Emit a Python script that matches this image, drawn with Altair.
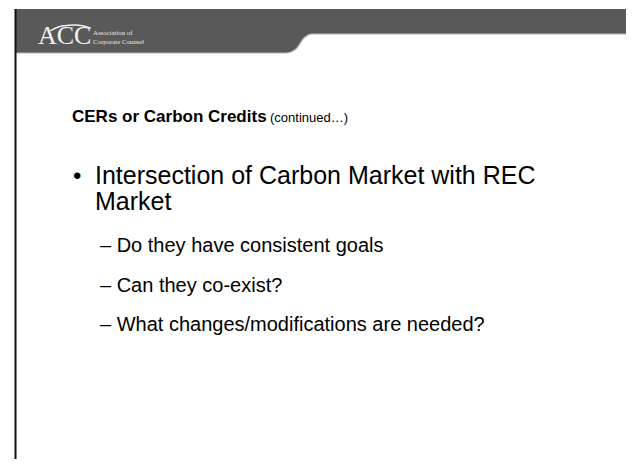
import altair as alt
import pandas as pd

# ---- slide content ----
logo_mark = ["ACC"]
logo_name = ["Association of", "Corporate Counsel"]
title_main = ["CERs or Carbon Credits"]
title_note = ["(continued…)"]
bullet_lines = ["Intersection of Carbon Market with REC", "Market"]
sub_items = ["– Do they have consistent goals", "– Can they co-exist?", "– What changes/modifications are needed?"]

W, H = 618, 451
OX, OY = 8, 8  # page margin


def px(x):
    return x - OX


def py(y):
    return y - OY


FONT = "Liberation Sans"

# header band outline (page px): bottom edge steps up near x=300
hdr = pd.DataFrame({
    "x": [15, 286, 296, 304, 312, 634],
    "top": [0, 0, 0, 0, 0, 0],
    "bot": [52, 52, 48, 37, 33, 33],
})
hdr["x"] = hdr["x"] - OX
hdr["bot"] = hdr["bot"] - OY

xs = alt.Scale(domain=[0, W], range=[0, W], nice=False, zero=False)
ys = alt.Scale(domain=[0, H], range=[0, H], nice=False, zero=False)

header = alt.Chart(hdr).mark_area(color="#595959", interpolate="monotone", opacity=1).encode(
    x=alt.X("x:Q", scale=xs, axis=None),
    y=alt.Y("top:Q", scale=ys, axis=None),
    y2="bot:Q",
)
header_edge = alt.Chart(hdr).mark_line(color="#b5b5b5", strokeWidth=1.2, interpolate="monotone").encode(
    x=alt.X("x:Q", scale=xs, axis=None),
    y=alt.Y("bot:Q", scale=ys, axis=None),
)

left_border = alt.Chart(pd.DataFrame({"a": [0]})).mark_rule(color="#111111", strokeWidth=2).encode(
    x=alt.value(px(15.5)), y=alt.value(0), y2=alt.value(H)
)

layers = [header, header_edge, left_border]


def txt(text, x, y, size, weight="normal", color="#000000", font=FONT):
    return alt.Chart(pd.DataFrame({"t": [text]})).mark_text(
        align="left", baseline="alphabetic", fontSize=size, fontWeight=weight,
        color=color, font=font,
    ).encode(text="t:N", x=alt.value(px(x)), y=alt.value(py(y)))


# logo
layers.append(txt(logo_mark[0], 38, 43, 26, color="#f2f2f2", font="Liberation Serif"))
arc = pd.DataFrame({"x": [50, 62, 76, 91], "y": [30, 25, 24, 27]})
arc["x"] = arc["x"] - OX
arc["y"] = arc["y"] - OY
layers.append(alt.Chart(arc).mark_line(color="#f2f2f2", strokeWidth=1.3, interpolate="monotone").encode(
    x=alt.X("x:Q", scale=xs, axis=None), y=alt.Y("y:Q", scale=ys, axis=None)))
layers.append(txt(logo_name[0], 93, 34, 6.8, color="#e8e8e8", font="Liberation Serif"))
layers.append(txt(logo_name[1], 93, 42.5, 6.8, color="#e8e8e8", font="Liberation Serif"))

# title
layers.append(txt(title_main[0], 72, 121, 17, weight="bold"))
layers.append(txt(title_note[0], 270, 121, 13))

# first-level bullet
layers.append(txt("•", 73, 183, 24))
layers.append(txt(bullet_lines[0], 95, 183, 25))
layers.append(txt(bullet_lines[1], 95, 209, 25))

# second-level items
for i, s in enumerate(sub_items):
    layers.append(txt(s, 100, 251 + i * 39.5, 20))

chart = alt.layer(*layers).properties(
    width=W, height=H, padding=0,
    autosize=alt.AutoSizeParams(type="fit", contains="padding"),
    background="#ffffff",
).configure_view(strokeWidth=0)

chart.save("out.html", embed_options={"renderer": "svg", "actions": False})
